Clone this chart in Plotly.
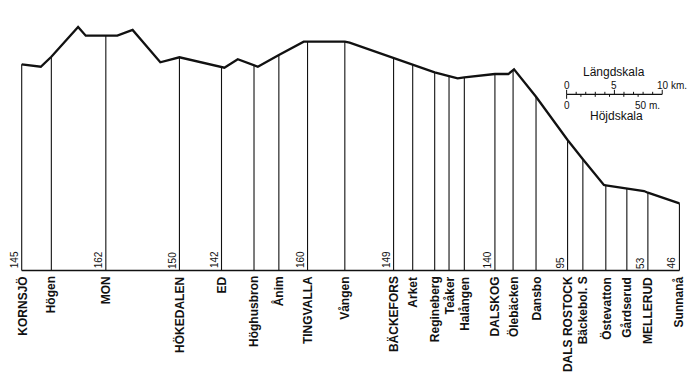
import plotly.graph_objects as go

# ---------------- data ----------------
# Track profile vertices: distance from Kornsjö (km) and height above the datum (m)
profile_km = [0.0, 2.0, 3.1, 5.9, 6.7, 8.8, 10.0, 11.6, 14.5, 16.5, 20.9, 21.2, 22.6,
              24.7, 26.9, 29.5, 29.9, 33.8, 34.3, 38.9, 40.9, 43.2, 44.7, 45.6, 46.3,
              49.5, 50.9, 51.5, 53.8, 57.1, 58.7, 60.9, 61.1, 63.3, 65.1, 65.5, 68.8]
profile_m = [144.2, 142.5, 149.5, 170.3, 164.2, 164.2, 164.2, 168.2, 145.6, 149.1,
             142.5, 141.8, 147.7, 142.5, 150.7, 160.0, 160.0, 160.0, 159.3, 148.4,
             143.7, 138.6, 136.0, 134.4, 135.1, 137.4, 137.4, 140.7, 121.5, 91.3,
             77.8, 59.8, 59.6, 57.5, 55.6, 54.4, 47.0]

# Stations
station_names = ["KORNSJÖ", "Högen", "MON", "HÖKEDALEN", "ED", "Höghusbron", "Ånim",
                 "TINGVALLA", "Vången", "BÄCKEFORS", "Arket", "Regineberg", "Teåker",
                 "Halången", "DALSKOG", "Ölebäcken", "Dansbo", "DALS ROSTOCK",
                 "Bäckebol. S", "Östevatton", "Gårdserud", "MELLERUD", "Sunnanå"]
station_km = [0.0, 3.1, 8.8, 16.5, 20.9, 24.3, 26.9, 29.9, 33.8, 38.9, 40.9, 43.2, 44.7,
              46.3, 49.5, 51.4, 53.8, 57.1, 58.7, 61.1, 63.3, 65.5, 68.8]
station_top_m = [144.2, 149.5, 164.2, 149.1, 142.5, 143.3, 150.7, 160.0, 160.0, 148.4,
                 143.7, 138.6, 136.0, 135.1, 137.4, 139.9, 121.5, 91.3, 77.8, 59.6,
                 57.5, 54.4, 47.0]
# Official heights written next to the main stations
height_label_station = ["KORNSJÖ", "MON", "HÖKEDALEN", "ED", "TINGVALLA", "BÄCKEFORS",
                        "DALSKOG", "DALS ROSTOCK", "MELLERUD", "Sunnanå"]
height_label_value = [145, 162, 150, 142, 160, 149, 140, 95, 53, 46]

# Scale bar
scale_km_ticks = [0, 1, 2, 3, 4, 5, 6, 7, 8, 9, 10]
scale_km_labels = {0: "0", 5: "5", 10: "10 km."}
scale_m_ticks = [0, 10, 20, 30, 40, 50]
scale_m_labels = {0: "0", 50: "50 m."}

# ---------------- geometry of the drawing ----------------
PAGE_OFFSET = 8       # default body margin of the html page
W, H = 700 - PAGE_OFFSET, 392 - PAGE_OFFSET
PX_PER_KM = 9.56
PX_PER_M = 1.43
X0_PX = 21.7 - PAGE_OFFSET     # pixel position of km 0 inside the figure
Y0_PX = 270.5 - PAGE_OFFSET    # pixel position of datum (0 m) inside the figure
x_range = [-X0_PX / PX_PER_KM, (W - X0_PX) / PX_PER_KM]
y_range = [(Y0_PX - H) / PX_PER_M, Y0_PX / PX_PER_M]

def dx(px):
    return px / PX_PER_KM

def dy(px):
    return px / PX_PER_M

FONT = "Liberation Sans, Arial, Helvetica, sans-serif"
INK = "#111111"

fig = go.Figure()

# vertical station lines
vx, vy = [], []
for k, t in zip(station_km, station_top_m):
    vx += [k, k, None]
    vy += [0, t, None]
fig.add_trace(go.Scatter(x=vx, y=vy, mode="lines",
                         line=dict(color=INK, width=1.1), hoverinfo="skip"))

# datum line
fig.add_trace(go.Scatter(x=[station_km[0], station_km[-1]], y=[0, 0], mode="lines",
                         line=dict(color=INK, width=1.4), hoverinfo="skip"))

# profile
fig.add_trace(go.Scatter(x=profile_km, y=profile_m, mode="lines",
                         line=dict(color=INK, width=2.3), hoverinfo="skip"))

# station names
for name, k in zip(station_names, station_km):
    fig.add_annotation(x=k, y=0, text="<b>" + name + "</b>", textangle=-90,
                       xanchor="center", yanchor="top", yshift=-5, showarrow=False,
                       font=dict(family=FONT, size=12, color=INK), borderpad=0)

# height numbers
for name, val in zip(height_label_station, height_label_value):
    k = station_km[station_names.index(name)]
    fig.add_annotation(x=k, y=0, text=str(val), textangle=-90,
                       xanchor="right", yanchor="bottom", xshift=-1, yshift=1,
                       showarrow=False, font=dict(family=FONT, size=10, color=INK),
                       borderpad=0)

# scale bar
SB_X = 57.0     # km position of the scale-bar origin
SB_Y = 123.2    # height position of the scale-bar line
sx = [SB_X, SB_X + scale_km_ticks[-1]]
sy = [SB_Y, SB_Y]
fig.add_trace(go.Scatter(x=sx, y=sy, mode="lines", line=dict(color=INK, width=1.2),
                         hoverinfo="skip"))
tx, ty = [], []
for t in scale_km_ticks:
    up = 4.5 if t in scale_km_labels else 2.5
    tx += [SB_X + t, SB_X + t, None]
    ty += [SB_Y, SB_Y + dy(up), None]
for m in scale_m_ticks:
    xm = SB_X + dx(m * PX_PER_M)
    down = 4.5 if m == 0 else 2.5
    tx += [xm, xm, None]
    ty += [SB_Y, SB_Y - dy(down), None]
fig.add_trace(go.Scatter(x=tx, y=ty, mode="lines", line=dict(color=INK, width=1),
                         hoverinfo="skip"))
for t, lab in scale_km_labels.items():
    fig.add_annotation(x=SB_X + t, y=SB_Y + dy(9.3), text=lab, showarrow=False,
                       xanchor="left" if t == 10 else "center", yanchor="middle",
                       xshift=-6 if t == 10 else 0,
                       font=dict(family=FONT, size=10, color=INK), borderpad=0)
for m, lab in scale_m_labels.items():
    fig.add_annotation(x=SB_X + dx(m * PX_PER_M), y=SB_Y - dy(10.7), text=lab,
                       showarrow=False, xanchor="left" if m == 50 else "center",
                       yanchor="middle", xshift=-4 if m == 50 else 0,
                       font=dict(family=FONT, size=10, color=INK), borderpad=0)
fig.add_annotation(x=SB_X + dx(47), y=SB_Y + dy(22.5), text="Längdskala", showarrow=False,
                   xanchor="center", yanchor="middle", borderpad=0,
                   font=dict(family=FONT, size=12, color=INK))
fig.add_annotation(x=SB_X + dx(49.5), y=SB_Y - dy(21.5), text="Höjdskala", showarrow=False,
                   xanchor="center", yanchor="middle", borderpad=0,
                   font=dict(family=FONT, size=12, color=INK))

fig.update_layout(
    width=W, height=H, margin=dict(l=0, r=0, t=0, b=0),
    paper_bgcolor="white", plot_bgcolor="white", showlegend=False,
    xaxis=dict(range=x_range, visible=False, fixedrange=True),
    yaxis=dict(range=y_range, visible=False, fixedrange=True),
)

fig.write_html("out.html")
